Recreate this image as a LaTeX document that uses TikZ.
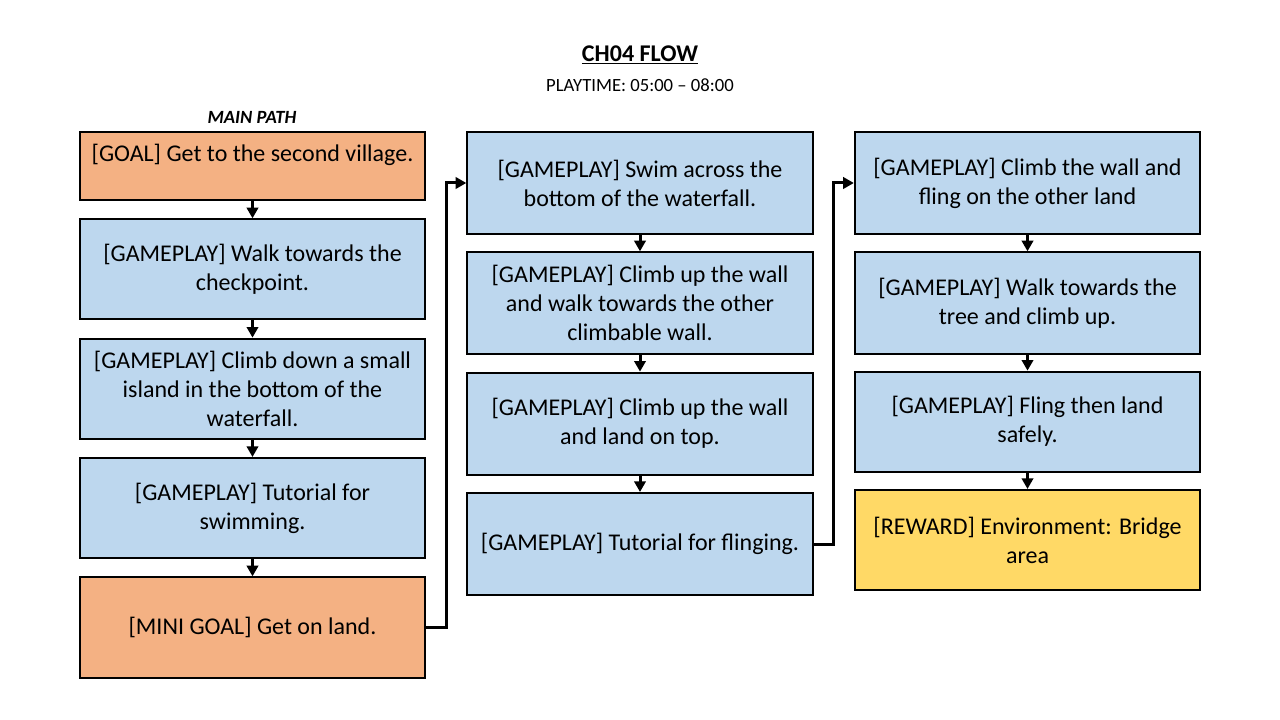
\documentclass[tikz,border=0pt]{standalone}
\usepackage{fontspec}
\setmainfont{Carlito}
\usetikzlibrary{positioning, arrows.meta}
\definecolor{goalOrange}{HTML}{F4B183}
\definecolor{playBlue}{HTML}{BDD7EE}
\definecolor{rewardYellow}{HTML}{FFD966}
\tikzstyle{flowbox} = [rectangle, draw=black, line width=1.5pt, minimum width=259pt, minimum height=75pt, inner sep=0pt, align=center, font=\fontsize{18}{21.75}\selectfont]
\tikzstyle{gameplay} = [flowbox, fill=playBlue]
\tikzstyle{goalbox} = [flowbox, fill=goalOrange]
\tikzstyle{rewardbox} = [flowbox, fill=rewardYellow]
\tikzstyle{arrow} = [line width=2.25pt, -{Triangle[length=8pt,width=8.5pt]}]

\begin{document}
\begin{tikzpicture}[x=0.75pt, y=-0.75pt, node distance=13pt]
\useasboundingbox (0,0) rectangle (1280,720);

% Titles
\node (title) at (640,55) {\fontsize{18}{21}\selectfont\bfseries\underline{CH04 FLOW}};
\node (playtime) at (640,85) {\fontsize{14}{16}\selectfont PLAYTIME: 05:00 – 08:00};
\node (mainpath) at (252,117) {\fontsize{14}{16}\selectfont\bfseries\itshape MAIN PATH};

% Main path, first column
\node (goalA) [goalbox, minimum height=51pt, anchor=north, label={[font=\fontsize{18}{21.75}\selectfont, anchor=north, label distance=-6pt]north:{[GOAL] Get to the second village.}}] at (252.5,131) {};
\node (walkA) [gameplay, below=of goalA] {[GAMEPLAY] Walk towards the\\checkpoint.};
\node (climbA) [gameplay, below=of walkA] {[GAMEPLAY] Climb down a small\\island in the bottom of the\\waterfall.};
\node (swimtutA) [gameplay, below=of climbA] {[GAMEPLAY] Tutorial for\\swimming.};
\node (miniA) [goalbox, below=of swimtutA, minimum height=75.75pt] {[MINI GOAL] Get on land.};

% Second column
\node (swimB) [gameplay, minimum height=76.5pt, anchor=north] at (640,131) {[GAMEPLAY] Swim across the\\bottom of the waterfall.};
\node (climbB) [gameplay, minimum height=76.5pt, below=12.25pt of swimB] {[GAMEPLAY] Climb up the wall\\and walk towards the other\\climbable wall.};
\node (landB) [gameplay, minimum height=76.5pt, below=12.25pt of climbB] {[GAMEPLAY] Climb up the wall\\and land on top.};
\node (flingtutB) [gameplay, minimum height=76.5pt, below=12.25pt of landB] {[GAMEPLAY] Tutorial for flinging.};

% Third column
\node (climbC) [gameplay, minimum height=76.5pt, anchor=north] at (1027.5,131) {[GAMEPLAY] Climb the wall and\\fling on the other land};
\node (walkC) [gameplay, minimum height=76.5pt, below=12.25pt of climbC] {[GAMEPLAY] Walk towards the\\tree and climb up.};
\node (flingC) [gameplay, below=11.5pt of walkC] {[GAMEPLAY] Fling then land\\safely.};
\node (rewardC) [rewardbox, below=12.25pt of flingC] {[REWARD] Environment: Bridge\\area};

% Links
\draw [arrow] (goalA) -- (walkA);
\draw [arrow] (walkA) -- (climbA);
\draw [arrow] (climbA) -- (swimtutA);
\draw [arrow] (swimtutA) -- (miniA);
\draw [arrow] (miniA.east) -- ++(20,0) |- (swimB.west);
\draw [arrow] (swimB) -- (climbB);
\draw [arrow] (climbB) -- (landB);
\draw [arrow] (landB) -- (flingtutB);
\draw [arrow] (flingtutB.east) -- ++(20,0) |- (climbC.west);
\draw [arrow] (climbC) -- (walkC);
\draw [arrow] (walkC) -- (flingC);
\draw [arrow] (flingC) -- (rewardC);

\end{tikzpicture}
\end{document}
